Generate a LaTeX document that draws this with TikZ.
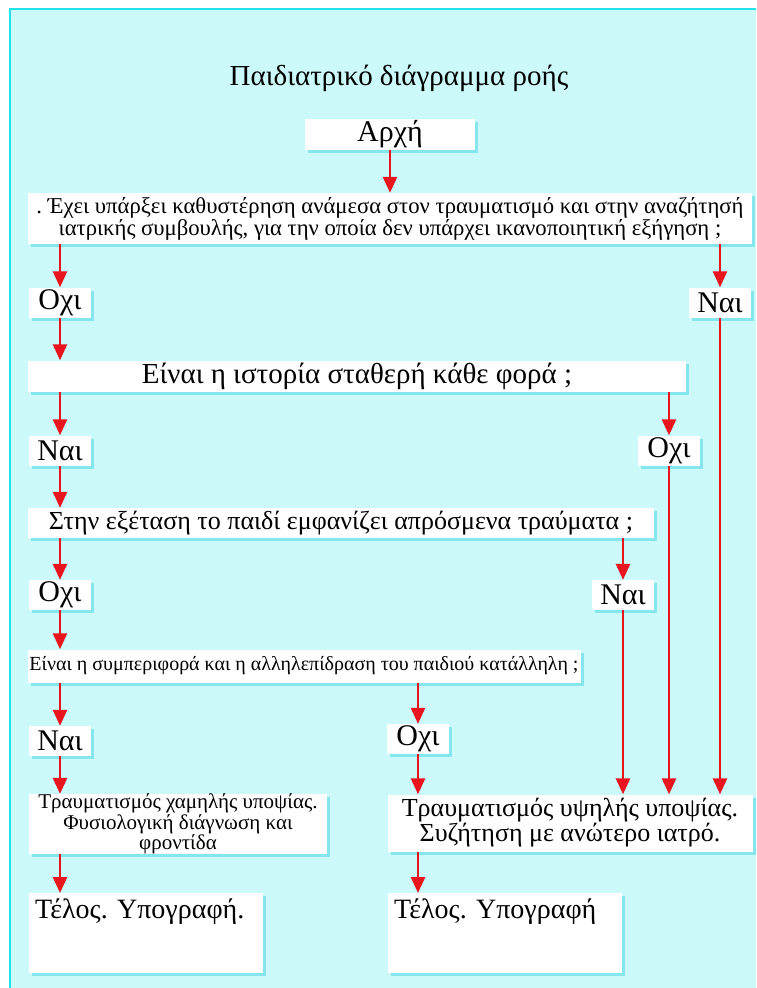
\documentclass[tikz,border=0pt]{standalone}
\usepackage{fontspec}
\setmainfont{Liberation Serif}
\usetikzlibrary{arrows.meta,shadows}
\frenchspacing

\definecolor{pagecyan}{HTML}{CCFAFA}
\definecolor{framecyan}{HTML}{22E2EA}
\definecolor{boxshadow}{HTML}{86E6EE}
\definecolor{flowred}{HTML}{E8141E}

\tikzset{
  box/.style={fill=white, inner sep=0pt, align=center,
    drop shadow={shadow xshift=3pt, shadow yshift=-3pt, fill=boxshadow, opacity=1}},
  answer/.style={box, minimum width=62pt, minimum height=30pt, font=\fontsize{30}{30}\selectfont},
  endbox/.style={box, anchor=north west, align=left, text width=222pt, inner xsep=6pt, inner ysep=3pt,
    text height=22pt, text depth=52pt, font=\fontsize{28}{28}\selectfont},
  flow/.style={flowred, line width=2.6pt, -{Triangle[length=16pt,width=14pt]}}
}

\begin{document}
\begin{tikzpicture}[x=1pt, y=-1pt]
  \useasboundingbox (0,0) rectangle (756,988);
  \fill[white] (0,0) rectangle (756,988);
  \fill[pagecyan] (9,8) rectangle (756,988);
  \draw[framecyan, line width=2.5pt] (10,988) -- (10,9) -- (756,9);

  \node[font=\fontsize{29}{29}\selectfont] (title) at (399,78) {Παιδιατρικό διάγραμμα ροής};
  \node[box, minimum width=170pt, minimum height=31pt, font=\fontsize{30}{30}\selectfont] (start) at (390,134) {Αρχή};
  \node[box, minimum width=724pt, minimum height=51pt, font=\fontsize{22.7}{22}\selectfont] (q1) at (390,218.5)
    {. Έχει υπάρξει καθυστέρηση ανάμεσα στον τραυματισμό και στην αναζήτησή\\ιατρικής συμβουλής, για την οποία δεν υπάρχει ικανοποιητική εξήγηση ;};
  \node[answer] (no1) at (60,302.5) {Οχι};
  \node[answer] (yes1) at (720,302.5) {Ναι};
  \node[box, minimum width=658pt, minimum height=31pt, font=\fontsize{29}{29}\selectfont] (q2) at (357,376) {Είναι η ιστορία σταθερή κάθε φορά ;};
  \node[answer] (yes2) at (60,450.5) {Ναι};
  \node[answer] (no2) at (669,450.5) {Οχι};
  \node[box, minimum width=626pt, minimum height=30pt, font=\fontsize{26}{26}\selectfont] (q3) at (341,523) {Στην εξέταση το παιδί εμφανίζει απρόσμενα τραύματα ;};
  \node[answer] (no3) at (60,595) {Οχι};
  \node[answer] (yes3) at (623,595) {Ναι};
  \node[box, minimum width=553pt, minimum height=33pt, font=\fontsize{20}{20}\selectfont] (q4) at (304,666) {Είναι η συμπεριφορά και η αλληλεπίδραση του παιδιού κατάλληλη ;};
  \node[answer] (yes4) at (60,741) {Ναι};
  \node[answer] (no4) at (418,739) {Οχι};
  \node[box, minimum width=298pt, minimum height=57pt, font=\fontsize{21}{18.5}\selectfont] (low) at (178,824)
    {Τραυματισμός χαμηλής υποψίας.\\Φυσιολογική διάγνωση και\\φροντίδα};
  \node[box, minimum width=365pt, minimum height=57pt, font=\fontsize{26}{25}\selectfont] (high) at (570,823)
    {Τραυματισμός υψηλής υποψίας.\\Συζήτηση με ανώτερο ιατρό.};
  \node[endbox] (end1) at (29,893) {Τέλος. Υπογραφή.};
  \node[endbox] (end2) at (388,893) {Τέλος. Υπογραφή};

  \draw[flow] (start) -- (q1);
  \draw[flow] (q1.south -| no1.north) -- (no1);
  \draw[flow] (q1.south -| yes1.north) -- (yes1);
  \draw[flow] (no1) -- (q2.north -| no1.south);
  \draw[flow] (q2.south -| yes2.north) -- (yes2);
  \draw[flow] (q2.south -| no2.north) -- (no2);
  \draw[flow] (yes2) -- (q3.north -| yes2.south);
  \draw[flow] (q3.south -| no3.north) -- (no3);
  \draw[flow] (q3.south -| yes3.north) -- (yes3);
  \draw[flow] (no3) -- (q4.north -| no3.south);
  \draw[flow] (q4.south -| yes4.north) -- (yes4);
  \draw[flow] (q4.south -| no4.north) -- (no4);
  \draw[flow] (yes4) -- (low.north -| yes4.south);
  \draw[flow] (no4) -- (high.north -| no4.south);
  \draw[flow] (yes3) -- (high.north -| yes3.south);
  \draw[flow] (no2) -- (high.north -| no2.south);
  \draw[flow] (yes1) -- (high.north -| yes1.south);
  \draw[flow] (low.south -| yes4) -- (end1.north -| yes4);
  \draw[flow] (high.south -| no4) -- (end2.north -| no4);
\end{tikzpicture}
\end{document}
